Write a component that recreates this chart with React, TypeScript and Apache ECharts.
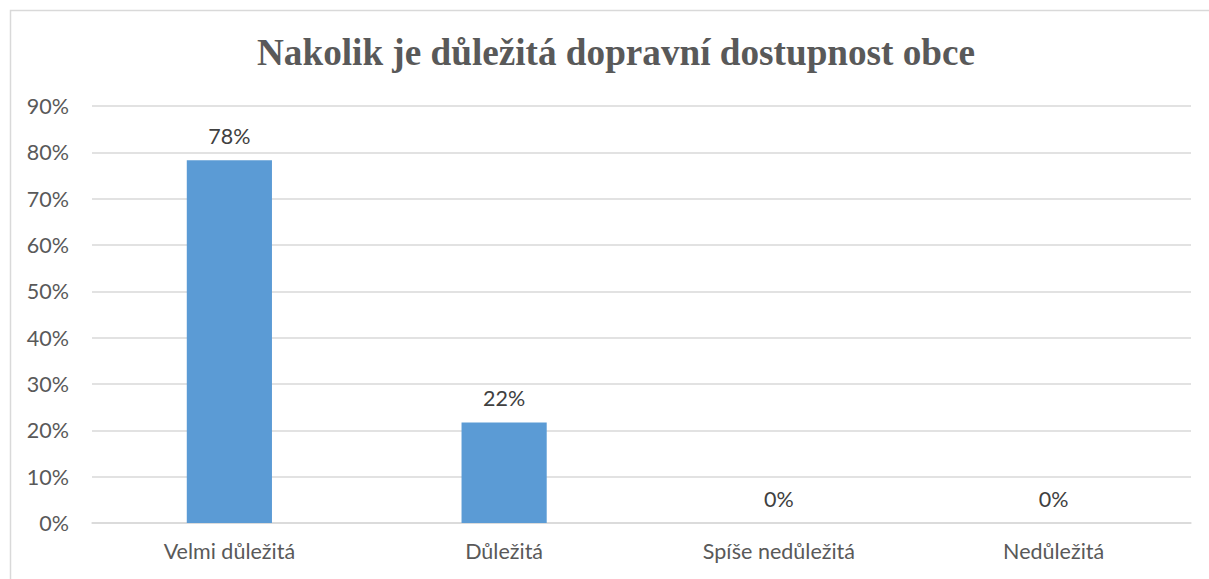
import React, { useEffect, useRef } from "react";
import * as echarts from "echarts";

const titleText = "Nakolik je důležitá dopravní dostupnost obce";
const categories = ["Velmi důležitá", "Důležitá", "Spíše nedůležitá", "Nedůležitá"];
const values = [78.3, 21.7, 0, 0];
const yTicks = [0, 10, 20, 30, 40, 50, 60, 70, 80, 90];

export default function App() {
  const ref = useRef<HTMLDivElement>(null);
  useEffect(() => {
    document.body.style.margin = "0";
    const chart = echarts.init(ref.current!, undefined, { renderer: "svg" });
    const font = "Lato, 'Open Sans', sans-serif";
    chart.setOption({
      animation: false,
      backgroundColor: "#ffffff",
      title: {
        text: titleText,
        left: 252,
        top: 29,
        textStyle: {
          fontFamily: "'Liberation Serif', 'DejaVu Serif', serif",
          fontWeight: "bold",
          fontSize: 37.2,
          color: "#595959",
        },
      },
      graphic: [
        {
          type: "rect",
          shape: { x: 10.5, y: 10.5, width: 1220, height: 600 },
          style: { fill: "none", stroke: "#d9d9d9", lineWidth: 1.5 },
          silent: true,
        },
      ],
      grid: { left: 92, right: 18, top: 106, bottom: 56, containLabel: false },
      xAxis: {
        type: "category",
        data: categories,
        axisLine: { show: true, lineStyle: { color: "#d9d9d9", width: 1.5 } },
        axisTick: { show: false },
        axisLabel: { color: "#595959", fontSize: 21.5, fontFamily: font, margin: 17 },
      },
      yAxis: {
        type: "value",
        min: yTicks[0],
        max: yTicks[yTicks.length - 1],
        interval: 10,
        axisLine: { show: false },
        axisTick: { show: false },
        axisLabel: {
          color: "#595959",
          fontSize: 21.5,
          fontFamily: font,
          margin: 23,
          formatter: (v: number) => `${v}%`,
        },
        splitLine: { lineStyle: { color: "#d9d9d9", width: 1.5 } },
      },
      series: [
        {
          type: "bar",
          data: values,
          barWidth: "31%",
          itemStyle: { color: "#5b9bd5" },
          label: {
            show: true,
            position: "top",
            distance: 13,
            color: "#404040",
            fontSize: 21.5,
            fontFamily: font,
            formatter: (p: any) => `${Math.round(p.value)}%`,
          },
        },
      ],
    });
    return () => chart.dispose();
  }, []);
  return <div ref={ref} style={{ width: 1209, height: 579 }} />;
}
